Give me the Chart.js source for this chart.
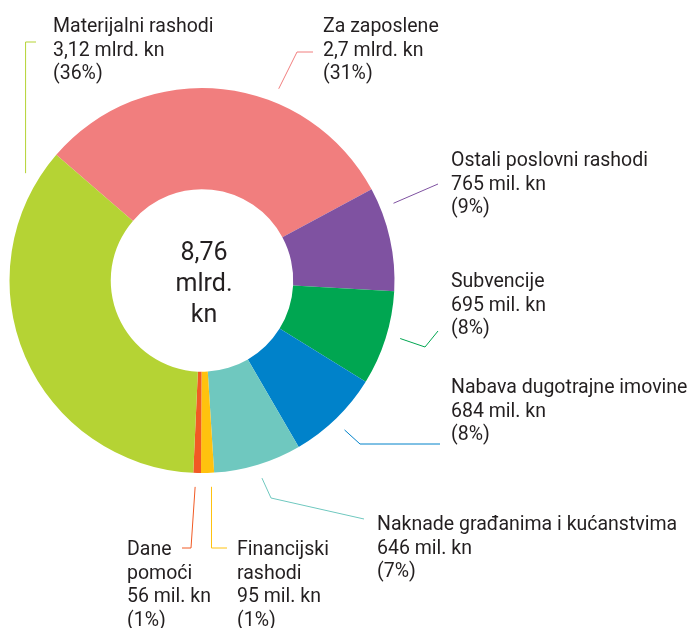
<!DOCTYPE html>
<html>
<head>
<meta charset="utf-8">
<script src="https://cdn.jsdelivr.net/npm/chart.js@4.4.0/dist/chart.umd.min.js"></script>
<style>
  html, body { margin: 0; padding: 0; background: #fff; }
</style>
</head>
<body>
<canvas id="rashodi" width="694" height="628"></canvas>
<script>
// rashodi u mlrd. kn, redom od vrha u smjeru kazaljke
const kategorije = [
  "Za zaposlene", "Ostali poslovni rashodi", "Subvencije", "Nabava dugotrajne imovine",
  "Naknade građanima i kućanstvima", ["Financijski", "rashodi"], ["Dane", "pomoći"], "Materijalni rashodi"
];
const vrijednosti = [2.70, 0.765, 0.695, 0.684, 0.646, 0.095, 0.056, 3.12];
const iznosi = [
  "2,7 mlrd. kn", "765 mil. kn", "695 mil. kn", "684 mil. kn",
  "646 mil. kn", "95 mil. kn", "56 mil. kn", "3,12 mlrd. kn"
];
const postotci = ["(31%)", "(9%)", "(8%)", "(8%)", "(7%)", "(1%)", "(1%)", "(36%)"];
const ukupno = ["8,76", "mlrd.", "kn"];

const boje = ["#f17e7e", "#7f52a1", "#00a651", "#0082ca", "#6fc8bf", "#ffc20e", "#f15a24", "#b5d334"];

// položaj oznaka: t = mjesto početka linije unutar isječka, linija = lomne točke
const rasporedOznaka = [
  { t: 0.64, linija: [[297, 52], [313, 52]], x: 323, y: 32 },
  { t: 0.20, linija: [[438, 184]], x: 451, y: 166 },
  { t: 0.46, linija: [[425, 347], [438, 331]], x: 451, y: 287 },
  { t: 0.52, linija: [[360, 444], [440, 444]], x: 451, y: 393 },
  { t: 0.50, linija: [[271, 498], [364, 519]], x: 377, y: 530 },
  { t: 0.25, linija: [[null, 548], [227, 548]], x: 237, y: 555 },
  { t: 0.70, linija: [[191, 548], [182, 548]], x: 127, y: 555 },
  { t: 0.926, linija: [[null, 42], [36, 42]], x: 53, y: 32 }
];

const oznakePlugin = {
  id: "oznake",
  afterDatasetsDraw(chart) {
    const ctx = chart.ctx;
    const lukovi = chart.getDatasetMeta(0).data;
    ctx.save();
    lukovi.forEach((luk, i) => {
      const p = rasporedOznaka[i];
      const kut = luk.startAngle + p.t * (luk.endAngle - luk.startAngle);
      const r = luk.outerRadius + 14;
      const sx = luk.x + Math.cos(kut) * r;
      const sy = luk.y + Math.sin(kut) * r;

      ctx.strokeStyle = boje[i];
      ctx.lineWidth = 1;
      ctx.beginPath();
      ctx.moveTo(sx, sy);
      p.linija.forEach(([x, y]) => ctx.lineTo(x === null ? sx : x, y));
      ctx.stroke();

      const redovi = [].concat(kategorije[i], iznosi[i], postotci[i]);
      ctx.fillStyle = "#231f20";
      ctx.font = "19.5px Roboto";
      ctx.textAlign = "left";
      ctx.textBaseline = "alphabetic";
      redovi.forEach((tekst, j) => ctx.fillText(tekst, p.x, p.y + j * 23.5));
    });

    // ukupni iznos u sredini
    const c = lukovi[0];
    ctx.font = "25px Roboto";
    ctx.textAlign = "center";
    ukupno.forEach((tekst, j) => ctx.fillText(tekst, c.x + 2, 260 + j * 31));
    ctx.restore();
  }
};

new Chart(document.getElementById("rashodi"), {
  type: "doughnut",
  data: {
    labels: kategorije,
    datasets: [{
      data: vrijednosti,
      backgroundColor: boje,
      borderWidth: 0
    }]
  },
  options: {
    responsive: false,
    animation: false,
    rotation: -49.2,
    cutout: "47.4%",
    layout: { padding: { left: 9, right: 299, top: 88, bottom: 155 } },
    plugins: {
      legend: { display: false },
      tooltip: { enabled: false }
    }
  },
  plugins: [oznakePlugin]
});
</script>
</body>
</html>
